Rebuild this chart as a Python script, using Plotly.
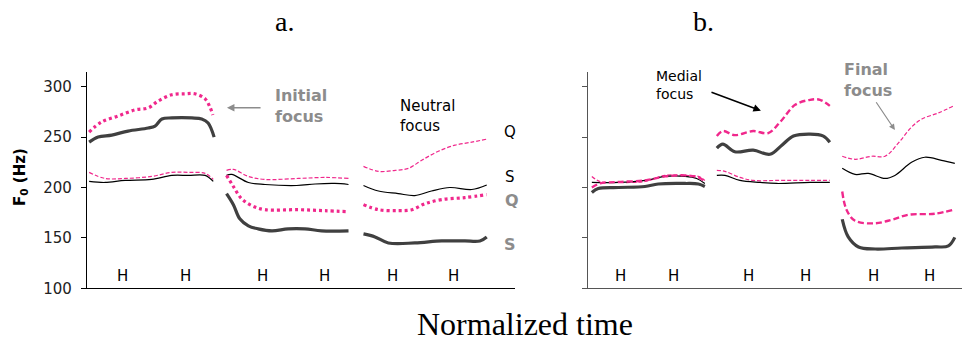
import plotly.graph_objects as go

# ---------------- data (normalized time units, F0 in Hz) ----------------
# Panel a: thick = initial focus, thin = neutral focus
a1_q_foc_t = [0.5, 3.4, 7.3, 11.2, 14.3, 16.7, 19.8, 22.9, 25.2, 27.6, 28.7, 29.4]
a1_q_foc_f = [255, 265, 271, 277, 279, 286, 292, 293, 293, 288, 280, 272]
a1_s_foc_t = [0.5, 2.6, 5.8, 9.6, 14.3, 15.9, 17.5, 19.8, 24.5, 26.8, 28.3, 29.7]
a1_s_foc_f = [245, 250, 252, 256, 259, 261, 268, 269, 269, 268, 264, 250]
a1_neu_t = [0.5, 4.2, 8.9, 15.1, 19.8, 23.7, 27.6, 29.5]
a1_q_neu_f = [215, 209, 209, 211, 215, 215, 214, 208]
a1_s_neu_f = [206, 205, 207, 208, 212, 212, 212, 206]

a2_q_neu_t = [32.6, 34.2, 37.7, 41.6, 49.4, 55.6, 61.1]
a2_q_neu_f = [217, 218, 211, 208, 209, 210, 209]
a2_s_neu_t = [32.6, 33.8, 37.7, 41.6, 49.0, 53.3, 57.9, 61.1]
a2_s_neu_f = [212, 213, 205, 203, 202, 203.5, 204, 203]
a2_q_foc_t = [32.6, 34.2, 36.1, 38.5, 41.6, 49.4, 55.6, 61.1]
a2_q_foc_f = [212, 201, 189, 182, 178, 178, 177, 176]
a2_s_foc_t = [32.6, 34.2, 35.7, 37.7, 40.0, 43.2, 47.0, 50.9, 54.8, 61.1]
a2_s_foc_f = [194, 183, 169, 162, 159, 157, 159, 159, 157, 157]

a3_q_neu_t = [64.6, 68.1, 72.0, 75.1, 78.2, 82.1, 86.0, 89.9, 93.4]
a3_q_neu_f = [221, 216, 217, 219, 227, 236, 242, 245, 248]
a3_s_neu_t = [64.6, 68.1, 72.7, 76.6, 80.5, 84.8, 89.9, 93.4]
a3_s_neu_f = [202, 196.5, 194, 192, 196.5, 200, 198, 202.5]
a3_q_foc_t = [64.6, 68.1, 72.7, 75.9, 79.0, 82.9, 88.3, 93.4]
a3_q_foc_f = [183, 178, 177, 178, 184, 188, 190, 193]
a3_s_foc_t = [64.6, 67.3, 70.4, 76.6, 82.9, 88.3, 91.8, 93.4]
a3_s_foc_f = [154, 151, 145, 145, 147, 147, 147, 151]

# Panel b: thick = medial focus, thin = final focus
b1_q_t = [0.9, 2.8, 7.1, 13.3, 18.0, 22.7, 25.8, 27.3]
b1_q_fin_f = [211, 206, 205, 206, 212, 212, 211, 207]
b1_q_med_f = [200, 204, 205.5, 207, 211, 212, 210, 206]
b1_s_fin_t = [0.9, 7.1, 13.3, 18.0, 22.7, 25.4, 27.3]
b1_s_fin_f = [205, 205, 207, 211, 211, 209, 204]
b1_s_med_t = [0.9, 2.4, 7.1, 13.3, 16.4, 22.7, 25.8, 27.3]
b1_s_med_f = [195, 199, 200, 201, 203.5, 204, 203.5, 201]

b2_q_med_t = [30.1, 31.5, 34.3, 38.6, 42.1, 44.9, 48.4, 51.9, 54.2, 56.5]
b2_q_med_f = [251, 256, 252, 256, 254, 265, 282, 287, 287, 281]
b2_s_med_t = [30.1, 31.5, 34.3, 38.6, 42.5, 45.3, 48.0, 51.9, 55.0, 56.5]
b2_s_med_f = [239, 243, 235.5, 237, 233, 242, 251, 253, 251, 245]
b2_q_fin_t = [30.1, 32.0, 35.5, 38.6, 44.1, 51.9, 56.5]
b2_q_fin_f = [217, 216, 210, 207, 207, 207, 207]
b2_s_fin_t = [30.1, 32.0, 35.5, 40.2, 44.1, 51.9, 56.5]
b2_s_fin_f = [212, 212, 207, 205, 204, 205, 205]

b3_q_fin_t = [59.4, 62.4, 66.3, 69.4, 72.5, 75.6, 78.0, 81.9, 85.4]
b3_q_fin_f = [231, 228, 231, 231, 244, 260, 268, 274, 281]
b3_s_fin_t = [59.4, 62.4, 65.5, 69.4, 71.7, 75.6, 78.7, 82.6, 85.7]
b3_s_fin_f = [219, 213, 214, 209, 212, 225, 230, 227, 224]
b3_q_med_t = [59.4, 60.4, 62.4, 67.1, 71.0, 74.9, 81.1, 85.4]
b3_q_med_f = [196, 178, 167, 164.5, 168, 173, 174, 178]
b3_s_med_t = [59.4, 60.8, 63.2, 67.1, 73.3, 81.1, 84.2, 85.7]
b3_s_med_f = [168.5, 151, 141, 139, 140, 141, 142, 150.5]

h_pos_a = [8.4, 23.1, 40.9, 55.6, 71.3, 85.7]
h_pos_b = [7.7, 19.9, 37.4, 50.9, 66.6, 79.9]
y_ticks = [100, 150, 200, 250, 300]

# ---------------- styles ----------------
PINK = "#F0288C"
DARK = "#404040"
thick_pink_dot = dict(color=PINK, width=3.2, dash="3px,3px", shape="spline")
thick_pink_dash = dict(color=PINK, width=2.4, dash="6px,3px", shape="spline")
thin_pink = dict(color=PINK, width=1.2, dash="4px,2px", shape="spline")
thick_dark = dict(color=DARK, width=3.2, shape="spline")
thin_black = dict(color="black", width=1.2, shape="spline")

fig = go.Figure()

def add(t, f, line, xa="x", ya="y"):
    fig.add_trace(go.Scatter(x=t, y=f, mode="lines", line=line, xaxis=xa, yaxis=ya,
                             showlegend=False, hoverinfo="skip"))

# panel a
add(a1_neu_t, a1_q_neu_f, thin_pink)
add(a1_neu_t, a1_s_neu_f, thin_black)
add(a1_q_foc_t, a1_q_foc_f, thick_pink_dot)
add(a1_s_foc_t, a1_s_foc_f, thick_dark)
add(a2_q_neu_t, a2_q_neu_f, thin_pink)
add(a2_s_neu_t, a2_s_neu_f, thin_black)
add(a2_q_foc_t, a2_q_foc_f, thick_pink_dot)
add(a2_s_foc_t, a2_s_foc_f, thick_dark)
add(a3_q_neu_t, a3_q_neu_f, thin_pink)
add(a3_s_neu_t, a3_s_neu_f, thin_black)
add(a3_q_foc_t, a3_q_foc_f, thick_pink_dot)
add(a3_s_foc_t, a3_s_foc_f, thick_dark)

# panel b
add(b1_q_t, b1_q_fin_f, thin_pink, "x2", "y2")
add(b1_s_fin_t, b1_s_fin_f, thin_black, "x2", "y2")
add(b1_q_t, b1_q_med_f, thick_pink_dash, "x2", "y2")
add(b1_s_med_t, b1_s_med_f, thick_dark, "x2", "y2")
add(b2_q_fin_t, b2_q_fin_f, thin_pink, "x2", "y2")
add(b2_s_fin_t, b2_s_fin_f, thin_black, "x2", "y2")
add(b2_q_med_t, b2_q_med_f, thick_pink_dash, "x2", "y2")
add(b2_s_med_t, b2_s_med_f, thick_dark, "x2", "y2")
add(b3_q_fin_t, b3_q_fin_f, thin_pink, "x2", "y2")
add(b3_s_fin_t, b3_s_fin_f, thin_black, "x2", "y2")
add(b3_q_med_t, b3_q_med_f, thick_pink_dash, "x2", "y2")
add(b3_s_med_t, b3_s_med_f, thick_dark, "x2", "y2")

# page offset of the plot div (default body margin) -> figure sized to fit window
OFF = 8
W, H = 970 - OFF, 337 - OFF

def px(p):
    return (p - OFF) / W

def py(p):
    return 1 - (p - OFF) / H

ydom = [py(288.3), py(72.3)]
SANS = "DejaVu Sans, Verdana, sans-serif"
SERIF = "Liberation Serif, Times New Roman, serif"
GREY = "#8C8C8C"

axis_common = dict(showgrid=False, zeroline=False, showline=True, linewidth=1.2,
                   automargin=False)
fig.update_layout(
    width=W, height=H, margin=dict(l=0, r=0, t=0, b=0),
    paper_bgcolor="white", plot_bgcolor="white",
    xaxis=dict(domain=[px(87), px(515)], range=[0, 100], showticklabels=False,
               ticks="", linecolor="black", **axis_common),
    yaxis=dict(domain=ydom, range=[100, 314.3], tickvals=y_ticks, ticks="outside",
               ticklen=5, tickcolor="black", linecolor="black",
               tickfont=dict(family=SANS, size=15, color="#222"), ticklabelstandoff=6,
               **axis_common),
    xaxis2=dict(domain=[px(588), 1], range=[0, (970 - 588) / 4.28], showticklabels=False,
                ticks="", linecolor="#555", anchor="y2", **axis_common),
    yaxis2=dict(domain=ydom, range=[100, 314.3], tickvals=y_ticks, ticks="outside",
                ticklen=5, tickcolor="#555", linecolor="#555", showticklabels=False,
                anchor="x2", **axis_common),
)

ann = []
# H labels
for hx in h_pos_a:
    ann.append(dict(x=hx, y=112.2, xref="x", yref="y", text="H", showarrow=False,
                    font=dict(family=SANS, size=15, color="black")))
for hx in h_pos_b:
    ann.append(dict(x=hx, y=112.2, xref="x2", yref="y2", text="H", showarrow=False,
                    font=dict(family=SANS, size=15, color="black")))

# series labels panel a
ann += [
    dict(x=96.9, y=255.4, xref="x", yref="y", text="Q", xanchor="left", showarrow=False,
         font=dict(family=SANS, size=15, color="black")),
    dict(x=97.1, y=210.7, xref="x", yref="y", text="S", xanchor="left", showarrow=False,
         font=dict(family=SANS, size=15, color="black")),
    dict(x=97.2, y=187.6, xref="x", yref="y", text="<b>Q</b>", xanchor="left", showarrow=False,
         font=dict(family=SANS, size=16, color=GREY)),
    dict(x=96.9, y=143, xref="x", yref="y", text="<b>S</b>", xanchor="left", showarrow=False,
         font=dict(family=SANS, size=16, color=GREY)),
]
# series labels panel b (partly off the page)
ann += [
    dict(x=88.3, y=306.6, xref="x2", yref="y2", text="<b>Q</b>", xanchor="left", showarrow=False,
         font=dict(family=SANS, size=16, color=GREY)),
    dict(x=88.3, y=225.3, xref="x2", yref="y2", text="<b>S</b>", xanchor="left", showarrow=False,
         font=dict(family=SANS, size=16, color=GREY)),
    dict(x=88.3, y=174.7, xref="x2", yref="y2", text="Q", xanchor="left", showarrow=False,
         font=dict(family=SANS, size=15, color="black")),
]
# focus labels + arrows
ann += [
    dict(x=43.5, y=280.9, xref="x", yref="y", text="<b>Initial<br>focus</b>", xanchor="left",
         align="left", showarrow=False, font=dict(family=SANS, size=16, color=GREY)),
    dict(x=32.7, y=279.2, ax=40.9, ay=279.2, xref="x", yref="y", axref="x", ayref="y",
         text="", showarrow=True, arrowhead=2, arrowsize=1, arrowwidth=1.5, arrowcolor=GREY),
    dict(x=72.6, y=270.5, xref="x", yref="y", text="Neutral<br>focus", xanchor="left",
         align="left", showarrow=False, font=dict(family=SANS, size=15, color="black")),
    dict(x=15.4, y=302.2, xref="x2", yref="y2", text="Medial<br>focus", xanchor="left",
         align="left", showarrow=False, font=dict(family=SANS, size=14, color="black")),
    dict(x=40.4, y=276.2, ax=28.5, ay=295, xref="x2", yref="y2", axref="x2", ayref="y2",
         text="", showarrow=True, arrowhead=2, arrowsize=1, arrowwidth=1.5, arrowcolor="black"),
    dict(x=59.4, y=306.6, xref="x2", yref="y2", text="<b>Final<br>focus</b>", xanchor="left",
         align="left", showarrow=False, font=dict(family=SANS, size=16, color=GREY)),
    dict(x=71.7, y=257, ax=67.1, ay=286.1, xref="x2", yref="y2", axref="x2", ayref="y2",
         text="", showarrow=True, arrowhead=2, arrowsize=1, arrowwidth=1.2, arrowcolor=GREY),
]
# titles
ann += [
    dict(x=px(284), y=py(22), xref="paper", yref="paper", text="a.", showarrow=False,
         xanchor="center", yanchor="middle", font=dict(family=SERIF, size=28, color="black")),
    dict(x=px(703), y=py(22), xref="paper", yref="paper", text="b.", showarrow=False,
         xanchor="center", yanchor="middle", font=dict(family=SERIF, size=28, color="black")),
    dict(x=px(525), y=py(324), xref="paper", yref="paper", text="Normalized time",
         xanchor="center", yanchor="middle", showarrow=False,
         font=dict(family=SERIF, size=32, color="black")),
    dict(x=px(20), y=py(177), xref="paper", yref="paper", text="<b>F<sub>0</sub> (Hz)</b>",
         xanchor="center", yanchor="middle", textangle=-90, showarrow=False,
         font=dict(family=SANS, size=15, color="black")),
]
fig.update_layout(annotations=ann)

fig.write_html("out.html")
